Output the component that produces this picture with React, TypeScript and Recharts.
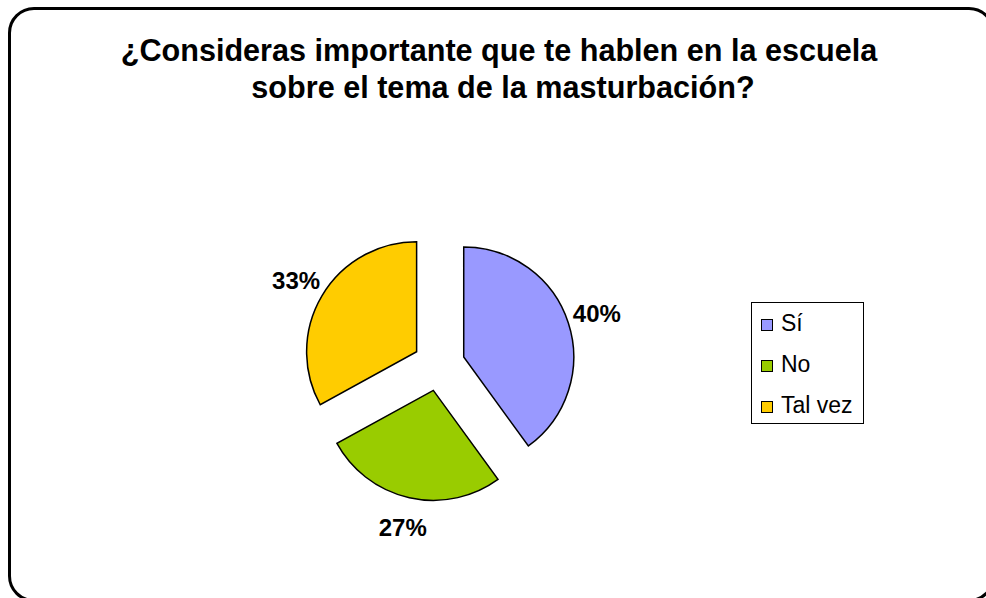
import { PieChart, Pie, Cell, Sector, Legend } from "recharts";

const CATEGORIAS = ["Sí", "No", "Tal vez"];
const PORCENTAJES = [40, 27, 33];
const COLORES = ["#9999FF", "#99CC00", "#FFCC00"];

const TITULO_1 = "¿Consideras importante que te hablen en la escuela";
const TITULO_2 = "sobre el tema de la masturbación?";

const RAD = Math.PI / 180;
const DESPLAZAMIENTO = 26;
const FUENTE = "'Liberation Sans', Arial, sans-serif";

const data = CATEGORIAS.map((name, i) => ({ name, value: PORCENTAJES[i] }));

// sector separado del centro (pie "explotado")
function SectorSeparado(props: any) {
  const { cx, cy, midAngle } = props;
  const dx = DESPLAZAMIENTO * Math.cos(-midAngle * RAD);
  const dy = DESPLAZAMIENTO * Math.sin(-midAngle * RAD);
  return <Sector {...props} cx={cx + dx} cy={cy + dy} />;
}

function Etiqueta(props: any) {
  const { cx, cy, midAngle, value } = props;
  const r = 166;
  const x = cx + r * Math.cos(-midAngle * RAD);
  const y = cy + r * Math.sin(-midAngle * RAD);
  return (
    <text
      x={x}
      y={y}
      textAnchor="middle"
      dominantBaseline="central"
      fill="#000"
      fontFamily={FUENTE}
      fontWeight="bold"
      fontSize={24}
    >
      {`${value}%`}
    </text>
  );
}

function Leyenda() {
  return (
    <div
      style={{
        border: "1px solid #000",
        background: "#fff",
        width: 113,
        height: 122,
        boxSizing: "border-box",
        padding: "0 0 0 9px",
        fontFamily: FUENTE,
        fontSize: 23,
      }}
    >
      {CATEGORIAS.map((c, i) => (
        <div key={c} style={{ display: "flex", alignItems: "center", height: 41 }}>
          <span
            style={{
              display: "inline-block",
              width: 10,
              height: 10,
              border: "1px solid #000",
              background: COLORES[i],
              marginRight: 8,
              marginTop: 3,
            }}
          />
          <span>{c}</span>
        </div>
      ))}
    </div>
  );
}

export default function App() {
  return (
    <div style={{ position: "absolute", left: 0, top: 0, width: 986, height: 598, overflow: "hidden", background: "#fff" }}>
      <div
        style={{
          position: "absolute",
          left: 8,
          top: 7,
          width: 987,
          height: 595,
          boxSizing: "border-box",
          border: "3px solid #000",
          borderRadius: 26,
        }}
      />
      <div
        style={{
          position: "absolute",
          left: 0,
          top: 32,
          width: 998,
          textAlign: "center",
          fontFamily: FUENTE,
          fontWeight: "bold",
          fontSize: 30.6,
          lineHeight: "37px",
        }}
      >
        <div>{TITULO_1}</div>
        <div style={{ paddingLeft: 8 }}>{TITULO_2}</div>
      </div>
      <div style={{ position: "absolute", left: 0, top: 0 }}>
        <PieChart width={986} height={598}>
          <Pie
            data={data}
            dataKey="value"
            nameKey="name"
            cx={434}
            cy={360}
            outerRadius={110}
            startAngle={90}
            endAngle={-270}
            stroke="#000"
            strokeWidth={1.5}
            label={Etiqueta}
            labelLine={false}
            shape={SectorSeparado}
            activeShape={SectorSeparado}
            inactiveShape={SectorSeparado}
            isAnimationActive={false}
          >
            {data.map((_, i) => (
              <Cell key={i} fill={COLORES[i]} />
            ))}
          </Pie>
          <Legend content={<Leyenda />} wrapperStyle={{ position: "absolute", left: 751, top: 302, width: 113 }} />
        </PieChart>
      </div>
    </div>
  );
}
